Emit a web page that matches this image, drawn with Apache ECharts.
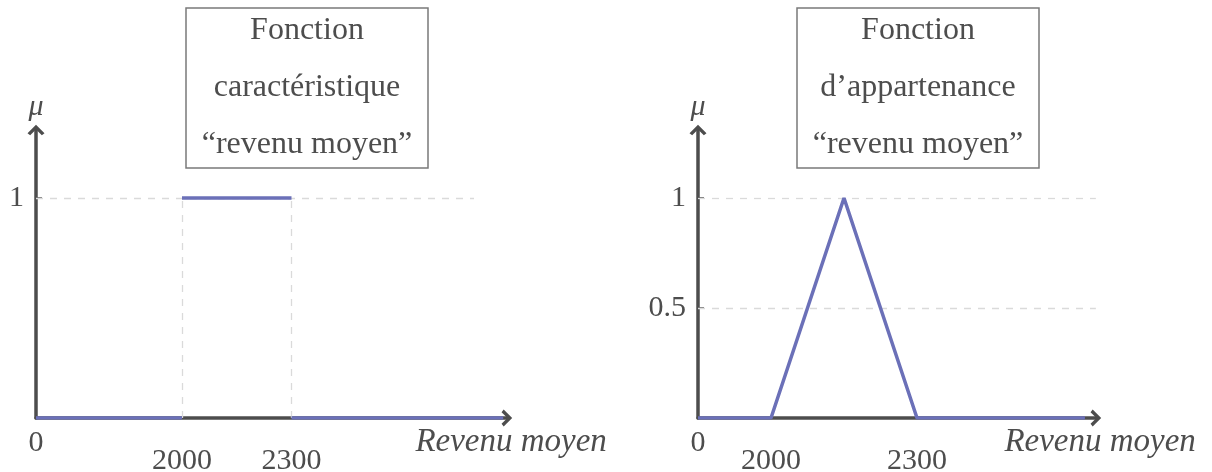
<!DOCTYPE html>
<html>
<head>
<meta charset="utf-8">
<script src="https://cdn.jsdelivr.net/npm/echarts@6/dist/echarts.min.js"></script>
<style>
  html, body { margin: 0; padding: 0; background: #fff; }
  #chart { width: 1212px; height: 472px; }
</style>
</head>
<body>
<div id="chart"></div>
<script>
// schematic axis: income ticks sit at these positions (sketch units)
const incomeLabels = ['0', '2000', '2300'];
const crispTickAt = [0, 4, 7];
const fuzzyTickAt = [0, 2, 6];

// membership values, points as [position, mu]; '-' breaks the line
const crispMu = [[0, 0], [4, 0], [4, '-'], [4, 1], [7, 1], [7, '-'], [7, 0], [12.8, 0]];
const fuzzyMu = [[0, 0], [2, 0], [4, 1], [6, 0], [10.6, 0]];

const crispMuTicks = [1];
const fuzzyMuTicks = [0.5, 1];

const crispTitle = ['Fonction', 'caractéristique', '“revenu moyen”'];
const fuzzyTitle = ['Fonction', 'd’appartenance', '“revenu moyen”'];

const ink = '#4d4d4d';
const blue = '#6b70b8';
const gridGray = '#dadada';
const serif = 'Liberation Serif';
const unit = 36.5;

const arrow = 'path://M8,0 L16,8 L13.5,10 L8,4.5 L2.5,10 L0,8 Z';

function xAxisFor(tickAt, max) {
  return {
    type: 'value', min: 0, max: max,
    splitLine: { show: false },
    axisLine: { lineStyle: { color: ink, width: 3.5 }, symbol: ['none', arrow], symbolSize: [17, 11] },
    axisTick: { show: false },
    axisLabel: {
      customValues: tickAt,
      margin: 10,
      formatter: function (v) {
        const lab = incomeLabels[tickAt.indexOf(v)];
        return v === 0 ? '{a|' + lab + '}' : '{b|' + lab + '}';
      },
      rich: {
        a: { fontFamily: serif, fontSize: 30, color: ink },
        b: { fontFamily: serif, fontSize: 30, color: ink, padding: [18, 0, 0, 0] }
      }
    },
    name: 'Revenu moyen',
    nameLocation: 'end',
    nameGap: 100,
    nameTextStyle: { fontFamily: serif, fontStyle: 'italic', fontSize: 33, color: ink, align: 'right', verticalAlign: 'top', padding: [8, 0, 0, 0] }
  };
}

function yAxisFor(ticks) {
  return {
    type: 'value', min: 0, max: 1.309,
    splitLine: { show: false },
    axisLine: { lineStyle: { color: ink, width: 3.5 }, symbol: ['none', arrow], symbolSize: [17, 11] },
    axisTick: { customValues: ticks, inside: true, length: 6, lineStyle: { color: ink, width: 1.5 } },
    axisLabel: { customValues: ticks, margin: 12, fontFamily: serif, fontSize: 30, color: ink },
    name: 'μ',
    nameLocation: 'end',
    nameGap: 8,
    nameTextStyle: { fontFamily: serif, fontStyle: 'italic', fontSize: 30, color: ink }
  };
}

function dashed(pairs) {
  return {
    silent: true, symbol: 'none', label: { show: false },
    lineStyle: { color: gridGray, width: 1.3, type: [7, 7] },
    data: pairs.map(p => [{ coord: p[0] }, { coord: p[1] }])
  };
}

function titleBox(cx, lines) {
  return {
    type: 'group',
    children: [
      { type: 'rect', shape: { x: cx - 121, y: 8, width: 242, height: 160 },
        style: { fill: '#fff', stroke: '#7a7a7a', lineWidth: 1.5 } },
      { type: 'text', x: cx, y: 88,
        style: { text: lines.join('\n'), fontFamily: serif, fontSize: 32, fill: ink,
                 lineHeight: 57, textAlign: 'center', textVerticalAlign: 'middle' } }
    ]
  };
}

const chart = echarts.init(document.getElementById('chart'), null, { renderer: 'canvas' });
chart.setOption({
  animation: false,
  grid: [
    { left: 36, top: 418 - 1.309 * 220, width: 12.9 * unit, height: 1.309 * 220, outerBoundsMode: 'none', containLabel: false },
    { left: 698, top: 418 - 1.309 * 220, width: 10.9 * unit, height: 1.309 * 220, outerBoundsMode: 'none', containLabel: false }
  ],
  xAxis: [
    Object.assign(xAxisFor(crispTickAt, 12.9), { gridIndex: 0 }),
    Object.assign(xAxisFor(fuzzyTickAt, 10.9), { gridIndex: 1 })
  ],
  yAxis: [
    Object.assign(yAxisFor(crispMuTicks), { gridIndex: 0 }),
    Object.assign(yAxisFor(fuzzyMuTicks), { gridIndex: 1 })
  ],
  series: [
    {
      type: 'line', xAxisIndex: 0, yAxisIndex: 0, data: crispMu,
      showSymbol: false, connectNulls: false, z: 5,
      lineStyle: { color: blue, width: 3.5 },
      markLine: dashed([
        [[0, 1], [12, 1]],
        [[crispTickAt[1], 0], [crispTickAt[1], 1]],
        [[crispTickAt[2], 0], [crispTickAt[2], 1]]
      ])
    },
    {
      type: 'line', xAxisIndex: 1, yAxisIndex: 1, data: fuzzyMu,
      showSymbol: false, z: 5,
      lineStyle: { color: blue, width: 3.5 },
      markLine: dashed(fuzzyMuTicks.map(t => [[0, t], [10.9, t]]))
    }
  ],
  graphic: [titleBox(307, crispTitle), titleBox(918, fuzzyTitle)]
});
</script>
</body>
</html>
